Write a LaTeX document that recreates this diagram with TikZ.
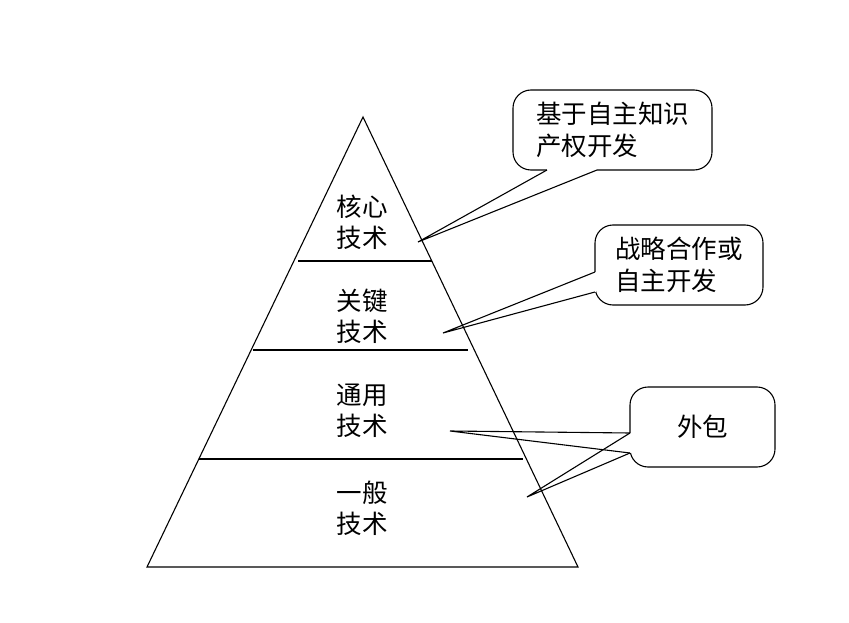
\documentclass[tikz,border=0pt]{standalone}
\usepackage{fontspec}
\newfontfamily\cjk{Noto Sans CJK SC}

\begin{document}
\begin{tikzpicture}[x=1pt,y=-1pt,line width=1.1pt,
  lvl/.style={font=\cjk\fontsize{25.5}{31}\selectfont,align=center},
  callout/.style={draw,rounded corners=18pt,font=\cjk\fontsize{25.5}{32}\selectfont,align=left,inner sep=0pt},
  gap/.style={white,line width=2.5pt}]
  \useasboundingbox (0,0) rectangle (849,623);
  \begin{scope}
   \coordinate (apex) at (363,117);
   \coordinate (bl) at (147,567);
   \coordinate (br) at (578,567);
   \draw (apex) -- (br) -- (bl) -- cycle;
   \draw (298,261) -- (432,261);
   \draw (253,350) -- (468,350);
   \draw (199,459) -- (523,459);
   \node[lvl] (core) at (362,222) {核心\\技术};
   \node[lvl] (key) at (362,316) {关键\\技术};
   \node[lvl] (common) at (362,411) {通用\\技术};
   \node[lvl] (general) at (362,508) {一般\\技术};
  \end{scope}
  \begin{scope}
   \node[callout,minimum width=199pt,minimum height=80pt] (ipbox) at (612.5,130) {基于自主知识\\产权开发};
   \node[callout,minimum width=168pt,minimum height=80pt] (coopbox) at (679,265) {战略合作或\\自主开发};
   \node[callout,minimum width=145pt,minimum height=80pt] (outbox) at (702.5,427) {外包};
   \coordinate (ipa) at (547,170);
   \coordinate (ipb) at (597,170);
   \coordinate (iptip) at (418,242);
   \coordinate (coopa) at (595,272);
   \coordinate (coopb) at (595,292);
   \coordinate (cooptip) at (443,333);
   \coordinate (outa) at (630,433);
   \coordinate (outb) at (630,453);
   \coordinate (outtip) at (450,431);
   \coordinate (outtipb) at (527,497);
   \draw[gap] (ipa) -- (ipb);
   \draw[gap] (coopa) -- (coopb);
   \draw[gap] (outa) -- (outb);
   \draw (ipa) -- (iptip) -- (ipb);
   \draw (coopa) -- (cooptip) -- (coopb);
   \draw (outa) -- (outtip) -- (outb);
   \draw (outa) -- (outtipb) -- (outb);
  \end{scope}
\end{tikzpicture}
\end{document}
